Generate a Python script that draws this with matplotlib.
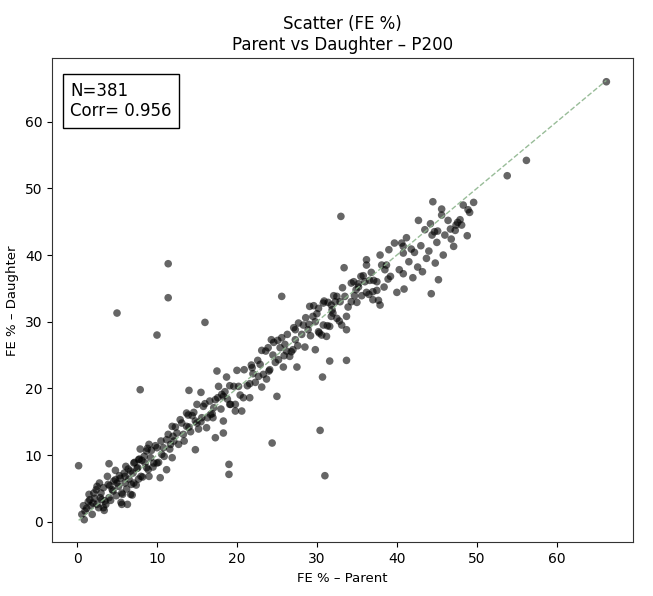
import numpy as np
import matplotlib
matplotlib.use("Agg")
import matplotlib.pyplot as plt

# FE % values (Parent, Daughter)
parent_a = [7.9,0.2,14.0,15.5,17.7,18.3,15.0,16.0,17.1,13.7,14.4,15.0,16.2,18.3,18.3,17.3,14.8,12.5,13.1,11.9,11.2,12.1,11.9,10.6,10.0,9.0,8.7,7.9,7.7,7.1,7.6,6.7,6.0,4.0,4.8,5.2,5.6,4.4,3.3,2.5,2.1,2.9,3.5,2.5,1.7,1.5,1.0,0.6,0.9,3.3,5.6,6.3,6.7,7.1,8.0,8.7,9.0,10.4,11.2,10.0,10.8,11.7,13.3,13.7,14.8,15.6,16.7,17.3,18.1,19.1,19.0,19.0]
daughter_a = [19.8,8.4,19.7,19.4,20.3,18.8,17.6,17.7,17.1,16.3,15.9,14.8,14.1,15.1,13.3,12.6,10.8,13.3,14.8,14.3,12.3,12.1,9.6,10.1,11.1,11.6,10.6,10.9,9.3,8.8,8.1,7.6,6.8,8.7,6.3,5.3,4.3,4.8,5.1,5.3,4.3,3.6,3.1,2.6,2.4,4.1,1.6,1.1,0.3,2.1,2.6,2.6,4.1,5.8,6.8,8.1,6.8,6.6,7.8,8.8,11.1,11.6,13.1,14.3,15.1,15.6,16.1,18.3,19.1,17.6,8.6,7.1]

parent_b = [25.6,16.0,30.4,17.5,18.7,20.0,19.1,20.2,21.6,21.9,22.9,22.7,23.7,23.1,24.1,23.1,23.9,24.3,25.4,25.6,25.2,25.8,26.6,27.5,26.2,27.0,27.3,27.3,27.7,28.5,29.8,31.6,33.7,30.7,25.0,20.8,21.6,19.8,20.6,19.8]
daughter_b = [33.8,29.9,13.7,22.6,21.7,22.7,20.4,20.3,20.7,23.1,23.6,21.8,21.4,20.2,22.8,25.7,26.1,27.3,26.1,27.6,24.3,23.2,24.8,23.2,25.6,25.8,27.3,28.8,29.8,26.2,25.8,24.1,24.2,21.7,18.8,18.6,18.6,17.6,16.6,16.6]

parent_c = [33.0,44.5,45.6,45.6,48.3,48.9,49.6,49.1,42.7,44.2,43.5,44.7,45.1,44.4,46.0,46.7,47.3,47.6,47.9,48.1,47.4,48.8,45.0,47.1,39.7,40.6,40.8,41.8,42.2,40.8,37.9,36.2,36.2,38.1,38.7,38.5,43.7,33.4,40.3,40.8,43.2,38.9,45.2,44.3,40.0,40.9,34.3,35.2,36.0,36.6,37.1,37.5,35.2,35.6,36.2,37.0,37.5,37.7,37.9,37.0,34.7,34.3,32.5,32.3,31.8,31.4,30.8,29.1,30.2,32.0,31.8,32.5,33.7,33.1,33.7,31.6,30.8,29.8,29.5,28.3,28.9,30.2,30.6,31.2,28.1]
daughter_c = [45.8,48.0,46.9,46.0,47.5,46.8,47.9,46.4,45.2,44.7,43.8,43.5,43.6,43.0,43.0,43.9,43.7,44.9,45.3,44.5,44.5,42.9,41.9,41.3,41.8,41.8,41.3,40.9,40.4,40.3,40.0,39.3,38.5,38.5,38.5,37.8,39.5,38.1,37.8,37.2,37.5,36.4,36.3,34.2,34.4,34.9,35.8,35.7,36.0,36.2,36.2,36.0,35.2,33.9,34.4,34.5,34.7,33.2,32.5,33.3,33.9,33.0,33.8,33.0,32.5,32.9,32.8,32.3,32.0,31.3,30.8,30.5,30.8,29.5,28.8,29.3,29.5,30.0,30.8,29.5,28.8,28.5,28.0,27.8,28.1]

parent_d = [66.2,56.2,53.8,11.4,11.4,5.0,10.0,24.4,31.0]
daughter_d = [66.0,54.2,51.9,38.7,33.6,31.3,28.0,11.8,6.9]

parent_e = [1.2,1.9,2.2,2.7,3.0,3.6,3.9,4.2,4.6,4.9,5.3,5.7,5.9,6.2,6.4,6.8,7.2,7.4,7.8,8.2,8.4,8.9,9.3,9.5,9.8,10.2,10.5,2.0,3.1,4.5,5.0,6.5,7.0,8.5,9.2,1.4,4.1,6.0,5.4,7.5,
            10.9,11.4,11.6,12.3,12.7,12.9,13.4,13.9,14.2,14.6,15.2,15.8,16.3,16.6,17.0,17.6,18.0,18.5,19.2,19.6,12.0,14.0,15.5,16.9,18.8,
            20.4,20.9,21.3,21.8,22.3,22.6,23.3,23.6,24.0,24.6,24.8,25.1,25.9,26.3,26.8,27.1,27.6,24.5,22.0,26.0,
            28.6,29.2,29.6,30.3,30.9,31.3,32.1,32.8,33.2,33.9,34.6,35.0,35.8,36.5,29.0,31.9,32.9,34.9,30.0,33.5,
            38.4,39.2,41.5,42.6,43.0,44.0,45.8,46.4,39.0,41.2,36.8,35.5,42.0,46.8,44.8,
            0.8,1.6,2.4,3.4,4.0,4.8,5.5,6.1,6.9,7.7,8.1,8.8,9.6,3.8,2.8]
daughter_e = [2.0,1.1,3.5,2.1,4.3,2.6,5.6,3.2,6.1,3.9,6.9,4.1,7.3,4.9,7.9,5.6,8.9,5.5,9.4,6.7,9.8,7.8,10.7,8.2,11.4,8.9,12.1,2.8,3.3,4.6,5.8,6.4,7.3,8.8,9.6,3.0,5.4,5.8,6.5,8.0,
              9.8,13.1,10.9,14.2,11.6,15.3,12.1,16.0,13.5,16.4,13.9,17.3,15.6,18.1,15.6,18.6,16.9,19.5,17.6,20.3,12.8,14.2,15.0,16.2,18.4,
              19.0,22.8,20.4,23.5,20.9,24.2,22.1,25.6,22.6,26.9,23.9,27.2,24.9,28.1,25.5,29.1,26.4,25.0,22.2,26.6,
              30.6,27.9,32.4,28.3,33.1,29.4,33.9,30.1,35.1,32.2,36.0,32.9,36.9,34.1,29.6,31.8,33.0,34.8,31.2,33.8,
              35.2,36.8,39.0,38.2,41.4,40.6,40.0,45.2,40.8,42.6,37.4,36.8,36.6,42.4,38.8,
              2.4,3.3,4.8,1.7,3.6,7.7,2.9,8.3,4.0,6.4,9.2,11.0,8.8,6.8,5.8]

n_label = "N=381"
corr_label = "Corr= 0.956"

x = np.array(parent_a + parent_b + parent_c + parent_d + parent_e)
y = np.array(daughter_a + daughter_b + daughter_c + daughter_d + daughter_e)

fig = plt.figure(figsize=(6.53, 5.96), dpi=100)
ax = fig.add_axes([0.080, 0.090, 0.889, 0.812])

ax.scatter(x, y, s=30, c="black", alpha=0.6, edgecolors="none")
lo = min(x.min(), y.min())
hi = max(x.max(), y.max())
ax.plot([lo, hi], [lo, hi], ls="--", color="#8db58d", lw=1.0, alpha=0.9)

ax.set_title("Scatter (FE %)\nParent vs Daughter – P200", fontsize=12)
ax.set_xlabel("FE % – Parent", fontsize=9.5)
ax.set_ylabel("FE % – Daughter", fontsize=9.5)
ax.tick_params(labelsize=10)
for s in ax.spines.values():
    s.set_color("#333333")

ax.text(0.031, 0.952, n_label + "\n" + corr_label, transform=ax.transAxes,
        ha="left", va="top", fontsize=12,
        bbox=dict(boxstyle="square,pad=0.45", fc="white", ec="black", lw=1))

fig.savefig("out.png", dpi=100)
